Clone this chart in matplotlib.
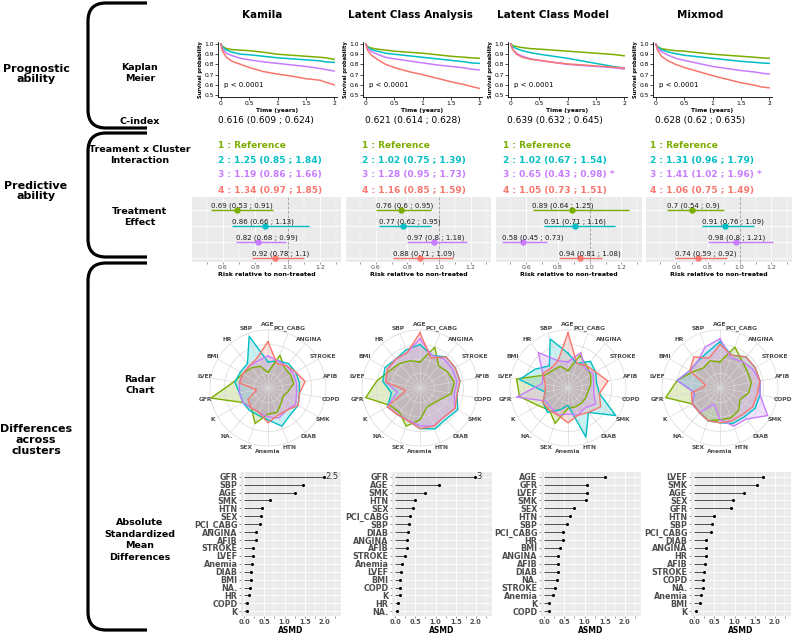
import matplotlib.pyplot as plt
import numpy as np
from matplotlib.path import Path
from matplotlib.patches import PathPatch

W, H = 793, 636

methods = ["Kamila", "Latent Class Analysis", "Latent Class Model", "Mixmod"]
colors = ["#7CAE00", "#00BFC4", "#C77CFF", "#F8766D"]  # clusters 1..4

# ---- Kaplan Meier ----
km_time = [0, 0.03, 0.1, 0.2, 0.35, 0.5, 0.75, 1.0, 1.25, 1.5, 1.75, 1.85, 2.0]
km_kamila = [
    [1, .975, .955, .945, .94, .935, .92, .90, .89, .88, .87, .865, .85],
    [1, .97, .94, .92, .90, .895, .88, .865, .855, .845, .835, .825, .82],
    [1, .95, .91, .885, .86, .845, .825, .81, .795, .78, .76, .75, .735],
    [1, .93, .87, .83, .80, .77, .73, .705, .685, .66, .645, .625, .60],
]
km_lca = [
    [1, .975, .96, .95, .94, .93, .92, .91, .895, .88, .87, .865, .86],
    [1, .97, .945, .93, .91, .90, .885, .87, .855, .84, .825, .815, .81],
    [1, .96, .925, .90, .87, .855, .835, .815, .795, .78, .765, .755, .745],
    [1, .94, .89, .85, .80, .77, .73, .70, .665, .63, .60, .585, .565],
]
km_lcm = [
    [1, .985, .975, .965, .955, .95, .94, .93, .92, .91, .90, .895, .885],
    [1, .975, .955, .935, .915, .90, .88, .86, .835, .81, .785, .775, .765],
    [1, .95, .91, .88, .855, .84, .82, .80, .79, .78, .77, .765, .755],
    [1, .95, .90, .87, .85, .84, .82, .805, .795, .785, .775, .77, .765],
]
km_mixmod = [
    [1, .975, .955, .945, .935, .93, .915, .90, .89, .88, .87, .865, .86],
    [1, .97, .945, .925, .905, .89, .875, .86, .845, .83, .82, .815, .81],
    [1, .96, .925, .895, .86, .84, .81, .78, .76, .74, .725, .715, .705],
    [1, .94, .88, .84, .80, .77, .73, .69, .655, .62, .595, .58, .57],
]

# ---- C-index ----
cidx = [0.616, 0.621, 0.639, 0.628]
cidx_lo = [0.609, 0.614, 0.632, 0.62]
cidx_hi = [0.624, 0.628, 0.645, 0.635]

# ---- Treatment x cluster interaction (clusters 2..4) ----
int_hr = [[1.25, 1.19, 1.34], [1.02, 1.28, 1.16], [1.02, 0.65, 1.05], [1.31, 1.41, 1.06]]
int_lo = [[0.85, 0.86, 0.97], [0.75, 0.95, 0.85], [0.67, 0.43, 0.73], [0.96, 1.02, 0.75]]
int_hi = [[1.84, 1.66, 1.85], [1.39, 1.73, 1.59], [1.54, 0.98, 1.51], [1.79, 1.96, 1.49]]
int_star = [[0, 0, 0], [0, 0, 0], [0, 1, 0], [0, 1, 0]]

# ---- Treatment effect per cluster ----
te_est = [[0.69, 0.86, 0.82, 0.92], [0.76, 0.77, 0.97, 0.88],
          [0.89, 0.91, 0.58, 0.94], [0.7, 0.91, 0.98, 0.74]]
te_lo = [[0.53, 0.66, 0.68, 0.78], [0.6, 0.62, 0.8, 0.71],
         [0.64, 0.71, 0.45, 0.81], [0.54, 0.76, 0.8, 0.59]]
te_hi = [[0.91, 1.13, 0.99, 1.1], [0.95, 0.95, 1.18, 1.09],
         [1.25, 1.16, 0.73, 1.08], [0.9, 1.09, 1.21, 0.92]]

# ---- Radar ----
radar_vars = ["AGE", "PCI_CABG", "ANGINA", "STROKE", "AFIB", "COPD", "SMK", "DIAB", "HTN",
              "Anemia", "SEX", "NA.", "K", "GFR", "LVEF", "BMI", "HR", "SBP"]
radar_kamila = [
    [0.27, 0.6, 0.45, 0.45, 0.45, 0.35, 0.3, 0.35, 0.45, 0.45, 0.65, 0.45, 0.5, 1.0, 0.6, 0.5, 0.45, 0.4],
    [0.45, 0.5, 0.55, 0.55, 0.55, 0.55, 0.6, 0.6, 0.7, 0.55, 0.5, 0.5, 0.5, 0.5, 0.58, 0.55, 0.55, 0.95],
    [0.55, 0.5, 0.5, 0.5, 0.5, 0.5, 0.55, 0.5, 0.55, 0.5, 0.45, 0.45, 0.5, 0.5, 0.5, 0.5, 0.5, 0.5],
    [0.8, 0.45, 0.5, 0.55, 0.65, 0.55, 0.6, 0.5, 0.5, 0.6, 0.45, 0.45, 0.4, 0.2, 0.5, 0.5, 0.5, 0.55],
]
radar_lca = [
    [0.45, 0.75, 0.5, 0.55, 0.6, 0.55, 0.4, 0.35, 0.35, 0.55, 0.7, 0.55, 0.6, 0.95, 0.75, 0.6, 0.55, 0.5],
    [0.75, 0.6, 0.7, 0.7, 0.7, 0.65, 0.75, 0.7, 0.75, 0.7, 0.6, 0.6, 0.65, 0.5, 0.65, 0.7, 0.65, 0.7],
    [0.85, 0.6, 0.65, 0.65, 0.65, 0.6, 0.7, 0.65, 0.7, 0.65, 0.6, 0.6, 0.65, 0.4, 0.6, 0.65, 0.65, 0.65],
    [0.95, 0.55, 0.7, 0.7, 0.7, 0.65, 0.7, 0.65, 0.7, 0.7, 0.6, 0.6, 0.65, 0.25, 0.6, 0.65, 0.65, 0.65],
]
radar_lcm = [
    [0.3, 0.6, 0.5, 0.45, 0.4, 0.35, 0.35, 0.35, 0.35, 0.35, 0.65, 0.5, 0.6, 0.85, 0.9, 0.45, 0.4, 0.4],
    [0.6, 0.45, 0.6, 0.55, 0.5, 0.55, 0.95, 0.55, 0.9, 0.3, 0.4, 0.55, 0.5, 0.4, 0.85, 0.65, 0.5, 0.9],
    [0.45, 0.65, 0.45, 0.5, 0.45, 0.45, 0.55, 0.45, 0.5, 0.45, 0.5, 0.45, 0.45, 0.9, 0.45, 0.5, 0.8, 0.5],
    [0.95, 0.45, 0.5, 0.55, 0.7, 0.55, 0.65, 0.55, 0.5, 0.6, 0.5, 0.5, 0.5, 0.4, 0.4, 0.5, 0.45, 0.5],
]
radar_mixmod = [
    [0.45, 0.75, 0.6, 0.55, 0.55, 0.5, 0.4, 0.5, 0.55, 0.55, 0.6, 0.55, 0.55, 0.95, 0.75, 0.55, 0.45, 0.5],
    [0.8, 0.6, 0.7, 0.7, 0.7, 0.7, 0.7, 0.65, 0.65, 0.6, 0.6, 0.55, 0.55, 0.45, 0.75, 0.6, 0.6, 0.65],
    [0.85, 0.55, 0.6, 0.65, 0.7, 0.7, 0.95, 0.7, 0.7, 0.55, 0.3, 0.55, 0.55, 0.45, 0.75, 0.6, 0.6, 0.75],
    [0.75, 0.6, 0.7, 0.7, 0.7, 0.65, 0.65, 0.6, 0.6, 0.6, 0.6, 0.55, 0.55, 0.5, 0.25, 0.6, 0.7, 0.55],
]

# ---- ASMD (top to bottom) ----
asmd_kamila_vars = ["GFR", "SBP", "AGE", "SMK", "HTN", "SEX", "PCI_CABG", "ANGINA", "AFIB",
                    "STROKE", "LVEF", "Anemia", "DIAB", "BMI", "NA.", "HR", "COPD", "K"]
asmd_kamila = [2.5, 1.46, 1.26, 0.64, 0.45, 0.41, 0.39, 0.28, 0.28,
               0.21, 0.21, 0.19, 0.18, 0.16, 0.15, 0.12, 0.08, 0.07]
asmd_lca_vars = ["GFR", "AGE", "SMK", "HTN", "SEX", "PCI_CABG", "SBP", "DIAB", "ANGINA",
                 "AFIB", "STROKE", "Anemia", "LVEF", "BMI", "COPD", "K", "HR", "NA."]
asmd_lca = [3, 1.09, 0.74, 0.48, 0.45, 0.36, 0.35, 0.31, 0.30,
            0.29, 0.23, 0.16, 0.15, 0.12, 0.11, 0.11, 0.07, 0.04]
asmd_lcm_vars = ["AGE", "GFR", "LVEF", "SMK", "SEX", "HTN", "SBP", "PCI_CABG", "HR",
                 "BMI", "ANGINA", "AFIB", "DIAB", "NA.", "STROKE", "Anemia", "K", "COPD"]
asmd_lcm = [1.5, 1.06, 1.06, 1.04, 0.75, 0.64, 0.57, 0.47, 0.46,
            0.40, 0.35, 0.34, 0.34, 0.32, 0.26, 0.21, 0.13, 0.12]
asmd_mixmod_vars = ["LVEF", "SMK", "AGE", "SEX", "GFR", "HTN", "SBP", "PCI_CABG", "DIAB",
                    "ANGINA", "HR", "AFIB", "STROKE", "COPD", "NA.", "Anemia", "BMI", "K"]
asmd_mixmod = [1.7, 1.55, 1.24, 0.96, 0.91, 0.49, 0.44, 0.41, 0.29,
               0.28, 0.28, 0.27, 0.25, 0.22, 0.21, 0.16, 0.14, 0.05]

km_all = [km_kamila, km_lca, km_lcm, km_mixmod]
radar_all = [radar_kamila, radar_lca, radar_lcm, radar_mixmod]
asmd_all = [(asmd_kamila_vars, asmd_kamila), (asmd_lca_vars, asmd_lca),
            (asmd_lcm_vars, asmd_lcm), (asmd_mixmod_vars, asmd_mixmod)]

fig = plt.figure(figsize=(W / 100, H / 100), dpi=100)


def px_axes(x0, y0, x1, y1, **kw):
    return fig.add_axes([x0 / W, 1 - y1 / H, (x1 - x0) / W, (y1 - y0) / H], **kw)


# overlay for brackets and labels
ov = px_axes(0, 0, W, H)
ov.set_xlim(0, W)
ov.set_ylim(H, 0)
ov.set_axis_off()


def bracket(y0, y1, x0=88, x1=147, r=18):
    verts = [(x1, y0), (x0 + r, y0), (x0, y0), (x0, y0 + r), (x0, y1 - r),
             (x0, y1), (x0 + r, y1), (x1, y1)]
    codes = [Path.MOVETO, Path.LINETO, Path.CURVE3, Path.CURVE3, Path.LINETO,
             Path.CURVE3, Path.CURVE3, Path.LINETO]
    ov.add_patch(PathPatch(Path(verts, codes), fill=False, lw=2.3, color="black",
                           capstyle="butt"))


bracket(3, 128)
bracket(133, 257)
bracket(263, 630)

for txt, y in [("Prognostic\nability", 74), ("Predictive\nability", 191),
               ("Differences\nacross\nclusters", 440)]:
    ov.text(36, y, txt, ha="center", va="center", fontsize=8, fontweight="bold",
            linespacing=1.1)
for txt, y in [("Kaplan\nMeier", 73), ("C-index", 121),
               ("Treament x Cluster\nInteraction", 155), ("Treatment\nEffect", 217),
               ("Radar\nChart", 385), ("Absolute\nStandardized\nMean\nDifferences", 540)]:
    ov.text(140, y, txt, ha="center", va="center", fontsize=6.8, fontweight="bold",
            linespacing=1.35)

title_x = [262, 410, 553, 700]
km_left = [218, 363, 508, 653]
cidx_x = [266, 413, 555, 700]
int_x = [218, 362, 503, 650]
te_box = [(192, 341), (346, 491), (496, 642), (646, 792)]
radar_c = [268, 420, 568, 720]
asmd_box = [(241, 341), (392, 492), (541, 641), (691, 791)]

for m in range(4):
    ov.text(title_x[m], 15, methods[m], ha="center", va="center", fontsize=7.5,
            fontweight="bold")

    # Kaplan Meier
    ax = px_axes(km_left[m], 42, km_left[m] + 119, 97)
    for k in range(4):
        ax.plot(km_time, km_all[m][k], color=colors[k], lw=1.1)
    ax.set_xlim(-0.05, 2.05)
    ax.set_ylim(0.48, 1.02)
    ax.set_xticks([0, 0.5, 1, 1.5, 2])
    ax.set_xticklabels(["0", "0.5", "1", "1.5", "2"])
    ax.set_yticks([0.5, 0.6, 0.7, 0.8, 0.9, 1.0])
    ax.spines[["top", "right"]].set_visible(False)
    for s in ["left", "bottom"]:
        ax.spines[s].set_linewidth(0.6)
    ax.tick_params(labelsize=4.3, length=2, width=0.5, pad=1, colors="black")
    ax.set_ylabel("Survival probability", fontsize=3.7, fontweight="bold", labelpad=1)
    ax.set_xlabel("Time (years)", fontsize=4.2, fontweight="bold", labelpad=1)
    ax.text(0.05, 0.6, "p < 0.0001", fontsize=5, va="center")

    # C-index
    ov.text(cidx_x[m], 121, f"{cidx[m]:g} ({cidx_lo[m]:g} ; {cidx_hi[m]:g})",
            ha="center", va="center", fontsize=6.5)

    # interaction
    ov.text(int_x[m], 145, "1 : Reference", color=colors[0], fontsize=6.5,
            fontweight="bold", va="center")
    for k in range(3):
        s = f"{k + 2} : {int_hr[m][k]:.2f} ({int_lo[m][k]:.2f} ; {int_hi[m][k]:.2f})"
        if int_star[m][k]:
            s += " *"
        ov.text(int_x[m], 160 + 15 * k, s, color=colors[k + 1], fontsize=6.5,
                fontweight="bold", va="center")

    # treatment effect
    x0, x1 = te_box[m]
    ax = px_axes(x0, 197, x1, 262)
    ax.set_facecolor("#EBEBEB")
    rows = [4, 3, 2, 1]
    ax.set_xlim(0.41, 1.33)
    ax.set_ylim(0.75, 4.85)
    ax.set_xticks([0.6, 0.8, 1.0, 1.2])
    ax.set_xticks([0.5, 0.7, 0.9, 1.1, 1.3], minor=True)
    ax.set_yticks(rows)
    ax.grid(which="major", color="white", lw=0.6)
    ax.grid(which="minor", axis="x", color="white", lw=0.3)
    ax.set_axisbelow(True)
    for s in ax.spines.values():
        s.set_visible(False)
    ax.tick_params(axis="y", length=0, labelleft=False)
    ax.tick_params(axis="x", which="both", length=1.5, width=0.4, labelsize=4.5,
                   pad=1, colors="#4D4D4D")
    ax.axvline(1.0, color="#999999", ls="--", lw=0.6)
    for k in range(4):
        ax.hlines(rows[k], te_lo[m][k], te_hi[m][k], color=colors[k], lw=1.0)
        ax.plot(te_est[m][k], rows[k], "o", color=colors[k], ms=3.6)
        ax.text(te_lo[m][k], rows[k] + 0.08,
                f"{te_est[m][k]:g} ({te_lo[m][k]:g} ; {te_hi[m][k]:g})",
                fontsize=5, va="bottom", ha="left", color="#1A1A1A")
    ax.set_xlabel("Risk relative to non-treated", fontsize=4.5, fontweight="bold",
                  labelpad=1)

    # radar
    cx, r = radar_c[m], 58
    ax = px_axes(cx - r, 388 - r, cx + r, 388 + r, projection="polar")
    ang = np.linspace(0, 2 * np.pi, len(radar_vars), endpoint=False)
    ax.set_theta_zero_location("N")
    ax.set_theta_direction(-1)
    for k in range(4):
        vals = list(radar_all[m][k])
        a = np.append(ang, ang[0])
        v = vals + vals[:1]
        ax.fill(a, v, color=colors[k], alpha=0.22, lw=0)
        ax.plot(a, v, color=colors[k], lw=1.0)
    ax.set_ylim(0, 1)
    ax.set_yticks([0.25, 0.5, 0.75])
    ax.set_yticklabels([])
    ax.set_xticks(ang)
    ax.set_xticklabels([])
    for a, name in zip(ang, radar_vars):
        ax.text(a, 1.1, name, ha="center", va="center", fontsize=4.3,
                fontweight="bold", color="#4D4D4D")
    ax.grid(color="#D9D9D9", lw=0.5)
    ax.spines["polar"].set_color("#D9D9D9")
    ax.spines["polar"].set_linewidth(0.5)

    # ASMD
    names, vals = asmd_all[m]
    x0, x1 = asmd_box[m]
    ax = px_axes(x0, 472, x1, 616)
    ax.set_facecolor("#EBEBEB")
    ys = np.arange(len(names))[::-1] + 1
    shown = [min(v, 1.97) for v in vals]
    ax.hlines(ys, 0, shown, color="#333333", lw=0.6)
    ax.plot(shown, ys, "o", color="black", ms=1.2)
    for v, y in zip(vals, ys):
        if v > 2.4:
            ax.text(2.02, y, f"{v:g}", fontsize=6, va="center", color="#333333")
    ax.set_xlim(-0.08, 2.4)
    ax.set_ylim(0.4, len(names) + 0.6)
    ax.set_yticks(ys)
    ax.set_yticklabels(names)
    ax.set_xticks([0, 0.5, 1, 1.5, 2])
    ax.set_xticklabels(["0.0", "0.5", "1.0", "1.5", "2.0"])
    ax.set_xticks([0.25, 0.75, 1.25, 1.75, 2.25], minor=True)
    ax.grid(which="major", color="white", lw=0.6)
    ax.grid(which="minor", axis="x", color="white", lw=0.3)
    ax.set_axisbelow(True)
    for s in ax.spines.values():
        s.set_visible(False)
    ax.tick_params(which="both", length=1.5, width=0.4, pad=1, colors="#4D4D4D")
    for lab in ax.get_yticklabels() + ax.get_xticklabels():
        lab.set_fontweight("bold")
    ax.tick_params(axis="y", labelsize=5.8)
    ax.tick_params(axis="x", labelsize=4.8)
    ax.set_xlabel("ASMD", fontsize=5.5, fontweight="bold", labelpad=0.5)

fig.savefig("out.png", dpi=100)
